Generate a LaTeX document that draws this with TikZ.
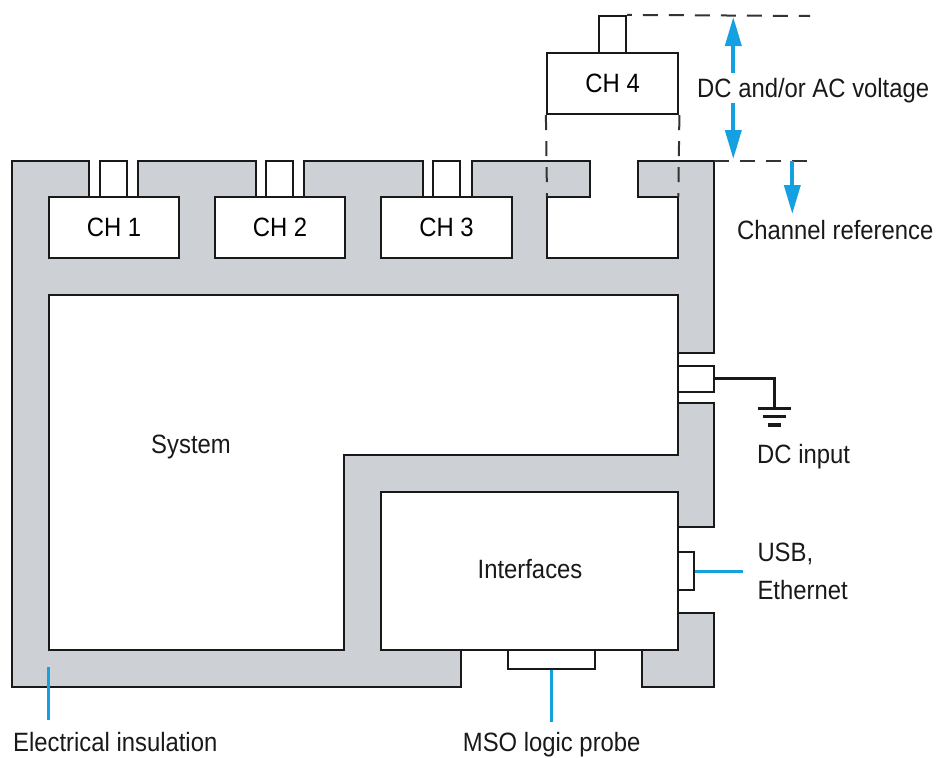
\documentclass[tikz,border=0pt]{standalone}
\usepackage{fontspec}
\setmainfont[FakeStretch=0.9]{Liberation Sans}
\usetikzlibrary{arrows.meta}
\definecolor{insul}{RGB}{205,209,214}
\definecolor{leader}{RGB}{20,160,225}
\begin{document}
\begin{tikzpicture}[x=1pt,y=-1pt,
  outline/.style={draw=black!90,line width=2.2pt,line join=miter},
  box/.style={outline,fill=white,inner sep=0pt},
  lbl/.style={font=\fontsize{26.5}{38}\selectfont,inner sep=0pt,text=black!90},
  lead/.style={draw=leader,line width=3.2pt},
  dimarrow/.style={draw=leader,line width=3.8pt,-{Triangle[length=29pt,width=16pt]}},
  guide/.style={draw=black!80,line width=2pt,dash pattern=on 15pt off 11pt},
  wire/.style={draw=black!90,line width=3.4pt}]
\useasboundingbox (0,0) rectangle (938,758);

% insulated housing
\path[outline,fill=insul] (12,160.7) -- (89,160.7) -- (89,196.7) -- (138,196.7) -- (138,160.7)
  -- (255.7,160.7) -- (255.7,196.7) -- (304,196.7) -- (304,160.7)
  -- (422.7,160.7) -- (422.7,196.7) -- (471.7,196.7) -- (471.7,160.7)
  -- (590,160.7) -- (590,196.7) -- (547,196.7) -- (547,257.7) -- (678.3,257.7) -- (678.3,196.7)
  -- (638.3,196.7) -- (638.3,160.7) -- (714.3,160.7)
  -- (714.3,353.3) -- (678.3,353.3) -- (678.3,402.7) -- (714.3,402.7)
  -- (714.3,527.3) -- (678.3,527.3) -- (678.3,613.3) -- (714.3,613.3)
  -- (714.3,686.7) -- (641.7,686.7) -- (641.7,650) -- (460.7,650) -- (460.7,686.7)
  -- (12,686.7) -- cycle;

% system and interfaces
\draw[outline,fill=white] (49,295) -- (678.3,295) -- (678.3,455) -- (344,455) -- (344,650) -- (49,650) -- cycle;
\node[lbl,anchor=base] (system) at (191,453.3) {System};
\node[box,minimum width=297.6pt,minimum height=158.3pt] (iface) at (529.5,570.85) {};
\node[lbl,anchor=base] (ifacelbl) at (530,578.3) {Interfaces};

% channel boxes
\node[box,minimum width=130pt,minimum height=61pt,font=\fontsize{26.5}{30}\selectfont] (ch1) at (114,227.2) {CH 1};
\node[box,minimum width=130.5pt,minimum height=61pt,font=\fontsize{26.5}{30}\selectfont] (ch2) at (280,227.2) {CH 2};
\node[box,minimum width=131.6pt,minimum height=61pt,font=\fontsize{26.5}{30}\selectfont] (ch3) at (446.5,227.2) {CH 3};
\node[box,minimum width=131.3pt,minimum height=61.3pt,font=\fontsize{26.5}{30}\selectfont] (ch4) at (612.65,83.35) {CH 4};

% connectors
\node[box,minimum width=27pt,minimum height=36pt] (c1) at (113.5,178.7) {};
\node[box,minimum width=27pt,minimum height=36pt] (c2) at (279.5,178.7) {};
\node[box,minimum width=27pt,minimum height=36pt] (c3) at (446.5,178.7) {};
\node[box,minimum width=26.7pt,minimum height=36.7pt] (c4) at (612.65,34.35) {};
\node[box,minimum width=36pt,minimum height=26pt] (dcc) at (696.3,378.7) {};
\node[box,minimum width=16pt,minimum height=37.7pt] (usbc) at (686.2,571.2) {};
\node[box,minimum width=86.7pt,minimum height=19.3pt] (msoc) at (551.7,659.7) {};

% guide lines
\coordinate (slotL) at (547,196.7);
\coordinate (slotR) at (678.3,196.7);
\coordinate (topend) at (810,16);
\coordinate (refstart) at (714.3,160.7);
\coordinate (refend) at (813,160.7);
\draw[guide] (ch4.south west) -- (slotL);
\draw[guide] (ch4.south east) -- (slotR);
\draw[guide,dash phase=10.3pt] (c4.north east) -- (topend);
\draw[guide] (refstart) -- (refend);

% voltage arrows
\coordinate (va1) at (733.3,73);
\coordinate (va1tip) at (733.3,17);
\coordinate (va2) at (733.3,103);
\coordinate (va2tip) at (733.3,159);
\coordinate (cr) at (792.3,161);
\coordinate (crtip) at (792.3,214);
\draw[dimarrow] (va1) -- (va1tip);
\draw[dimarrow] (va2) -- (va2tip);
\draw[dimarrow] (cr) -- (crtip);
\node[lbl,anchor=base west] (volt) at (697,97.3) {DC and/or AC voltage};
\node[lbl,anchor=base west] (chref) at (737,239) {Channel reference};

% DC input ground
\coordinate (gnd) at (774.3,408.3);
\draw[wire,line join=miter] (dcc.east) -- (gnd |- dcc.east) -- (gnd);
\draw[wire] (757.7,408.3) -- (791,408.3);
\draw[wire] (762.7,416.7) -- (786,416.7);
\draw[wire] (767.7,425) -- (781,425);
\node[lbl,anchor=base west] (dcin) at (757,463) {DC input};

% USB / Ethernet
\coordinate (usbend) at (743.3,571.2);
\draw[lead] (usbc.east) -- (usbend);
\node[lbl,anchor=north west,align=left] (usb) at (757.3,542.5) {USB,\\Ethernet};

% MSO logic probe
\coordinate (msoend) at (551.7,721.7);
\draw[lead] (msoc.south) -- (msoend);
\node[lbl,anchor=base] (mso) at (551.7,751.7) {MSO logic probe};

% Electrical insulation
\coordinate (eistart) at (48.5,666.7);
\coordinate (eiend) at (48.5,720);
\draw[lead] (eistart) -- (eiend);
\node[lbl,anchor=base west] (ei) at (13,751.7) {Electrical insulation};
\end{tikzpicture}
\end{document}
